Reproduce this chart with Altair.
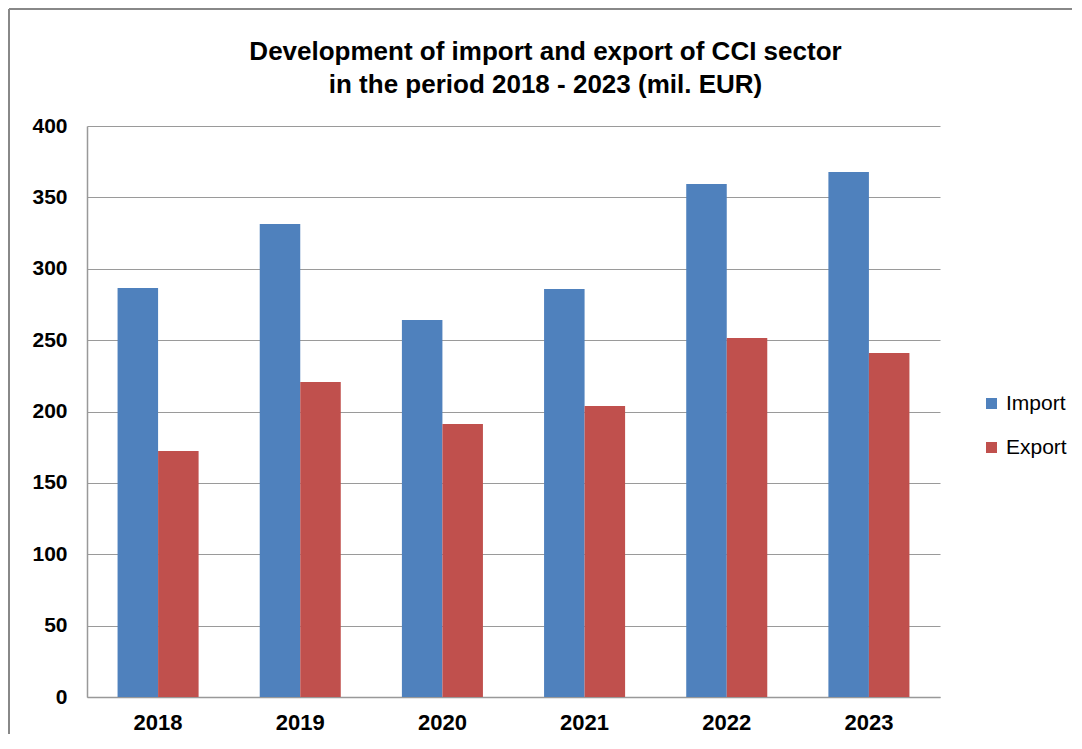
import altair as alt
import pandas as pd

years = ["2018", "2019", "2020", "2021", "2022", "2023"]
import_vals = [286.5, 331.3, 264.1, 285.8, 359.4, 367.8]
export_vals = [172.3, 220.7, 191.2, 203.9, 251.5, 241.0]
series = ["Import", "Export"]
colors = ["#4F81BD", "#C0504D"]
y_ticks = [0, 50, 100, 150, 200, 250, 300, 350, 400]

rows = []
for i, yr in enumerate(years):
    rows.append({"year": yr, "series": "Import", "value": import_vals[i]})
    rows.append({"year": yr, "series": "Export", "value": export_vals[i]})
df = pd.DataFrame(rows)

FONT = "Liberation Sans"

bars = alt.Chart(df).mark_bar().encode(
    x=alt.X("year:N", sort=years, title=None,
            scale=alt.Scale(paddingInner=0.43, paddingOuter=0.215),
            axis=alt.Axis(labelAngle=0, labelFontSize=22, labelFontWeight="bold",
                          labelColor="black", labelPadding=15, ticks=False,
                          domainColor="#999999", domainWidth=1.5, grid=False,
                          labelFont=FONT)),
    xOffset=alt.XOffset("series:N", sort=series, scale=alt.Scale(paddingInner=0, paddingOuter=0)),
    y=alt.Y("value:Q", title=None,
            scale=alt.Scale(domain=[0, 400], nice=False),
            axis=alt.Axis(values=y_ticks, labelFontSize=21, labelFontWeight="bold",
                          labelColor="black", labelPadding=20, ticks=False,
                          domainColor="#999999", domainWidth=1.5,
                          gridColor="#9a9a9a", gridWidth=1.2, labelFont=FONT)),
    color=alt.Color("series:N", sort=series,
                    scale=alt.Scale(domain=series, range=colors),
                    legend=alt.Legend(title=None, orient="none", legendX=894, legendY=267,
                                      symbolType="square", symbolSize=121,
                                      symbolStrokeWidth=0, labelFontSize=21,
                                      labelFont=FONT, labelColor="black",
                                      labelOffset=4, rowPadding=22, padding=0)),
)

frame_data = alt.Data(values=[{"k": 1}])
left_line = alt.Chart(frame_data).mark_rule(color="#888888", strokeWidth=2).encode(
    x=alt.value(-78), y=alt.value(-117), y2=alt.value(608))
top_line = alt.Chart(frame_data).mark_rule(color="#888888", strokeWidth=2).encode(
    x=alt.value(-78), x2=alt.value(985), y=alt.value(-117))

chart = alt.layer(bars, left_line, top_line).properties(
    width=853, height=571,
    padding=0,
    background="white",
    title=alt.TitleParams(
        text=["Development of import and export of CCI sector",
              "in the period 2018 - 2023 (mil. EUR)"],
        fontSize=26, fontWeight="bold", font=FONT, color="black",
        anchor="middle", dx=32, offset=-90, lineHeight=33),
).configure_view(stroke=None)

chart.save("out.html", embed_options={"renderer": "svg", "actions": False})
